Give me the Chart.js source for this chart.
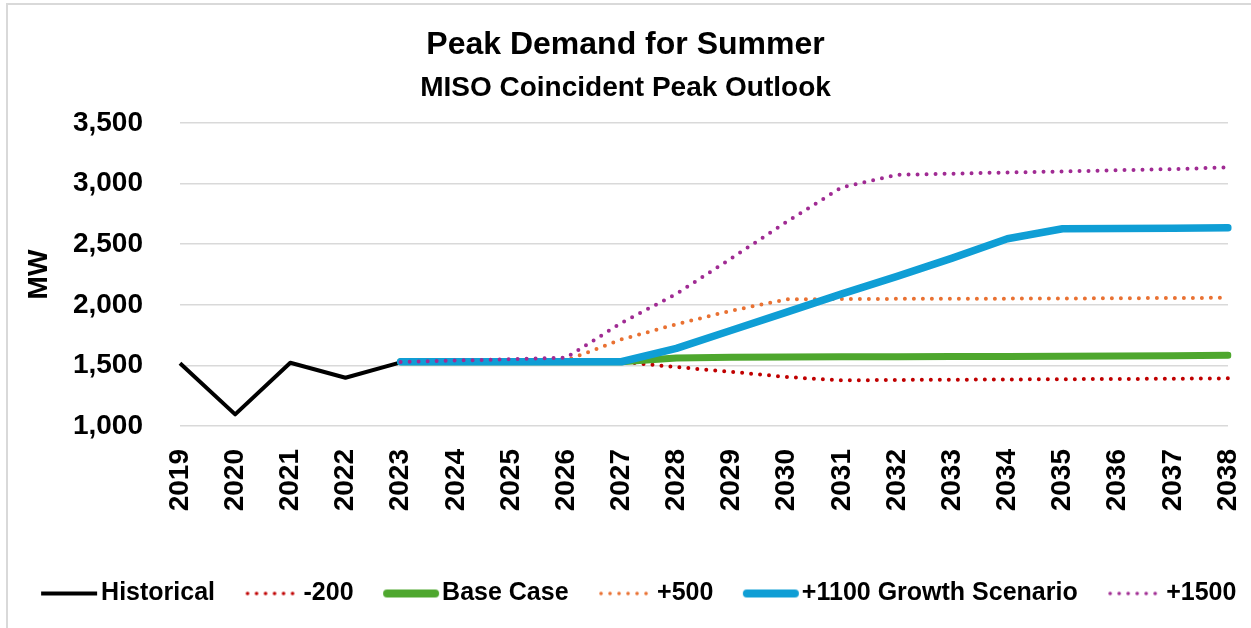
<!DOCTYPE html>
<html>
<head>
<meta charset="utf-8">
<script src="https://cdn.jsdelivr.net/npm/chart.js@4.4.1/dist/chart.umd.min.js"></script>
<style>
  html, body { margin: 0; padding: 0; background: #fff; }
  #wrap { position: relative; width: 1251px; height: 628px; overflow: hidden; }
  #frame { position: absolute; left: 6px; top: 3px; width: 1300px; height: 700px; border: 2px solid #d9d9d9; box-sizing: border-box; }
  #myChart { position: absolute; left: 0; top: 0; }
</style>
</head>
<body>
<div id="wrap">
  <div id="frame"></div>
  <canvas id="myChart" width="1251" height="628"></canvas>
</div>
<script>
const years = ['2019','2020','2021','2022','2023','2024','2025','2026','2027','2028',
               '2029','2030','2031','2032','2033','2034','2035','2036','2037','2038'];

const historical = [1517, 1096, 1522, 1398, 1525, null, null, null, null, null,
                    null, null, null, null, null, null, null, null, null, null];
const minus200   = [null, null, null, null, 1530, 1530, 1530, 1530, 1530, 1486,
                    1447, 1404, 1376, 1380, 1382, 1384, 1386, 1388, 1390, 1393];
const baseCase   = [null, null, null, null, 1530, 1530, 1530, 1530, 1530, 1562,
                    1568, 1570, 1571, 1572, 1573, 1574, 1575, 1577, 1580, 1584];
const plus500    = [null, null, null, null, 1530, 1535, 1538, 1540, 1714, 1840,
                    1952, 2045, 2048, 2049, 2050, 2051, 2052, 2054, 2056, 2058];
const plus1100   = [null, null, null, null, 1530, 1530, 1530, 1530, 1530, 1640,
                    1790, 1940, 2090, 2235, 2385, 2545, 2628, 2630, 2632, 2635];
const plus1500   = [null, null, null, null, 1528, 1540, 1551, 1563, 1850, 2090,
                    2385, 2685, 2970, 3072, 3082, 3092, 3100, 3110, 3120, 3133];

const yTicks = [1000, 1500, 2000, 2500, 3000, 3500];

const FONT = "'Liberation Sans', Arial, sans-serif";
const LEG_BOX = 74;   // legend box width; swatch line sits at its right end

// legend swatch drawn into a small canvas so the line sits right next to the text
function swatch(color, width, kind) {
  const c = document.createElement('canvas');
  c.width = LEG_BOX + 21; c.height = 14;
  const g = c.getContext('2d');
  const end = c.width + 2; // where the label text starts
  g.strokeStyle = color;
  g.fillStyle = color;
  if (kind === 'dots') {
    for (let i = 0; i < 6; i++) {
      g.beginPath();
      g.arc(end - 56 + i * 9, 7, width / 2, 0, Math.PI * 2);
      g.fill();
    }
    return c;
  }
  g.lineWidth = width;
  g.beginPath();
  if (kind === 'round') {
    g.lineCap = 'round';
    g.moveTo(end - 59 + width / 2, 7); g.lineTo(end - 3 - width / 2, 7);
  } else {
    g.moveTo(end - 60, 7); g.lineTo(end - 4, 7);
  }
  g.stroke();
  return c;
}

const dots = [0, 9];

const ctx = document.getElementById('myChart');

new Chart(ctx, {
  type: 'line',
  data: {
    labels: years,
    datasets: [
      { label: 'Historical', data: historical, borderColor: '#000000', borderWidth: 4,
        order: 5, swatch: swatch('#000000', 4, 'flat') },
      { label: '-200', data: minus200, borderColor: '#c00000', borderWidth: 4,
        borderDash: dots, borderCapStyle: 'round', order: 4, swatch: swatch('#c00000', 3.6, 'dots') },
      { label: 'Base Case', data: baseCase, borderColor: '#4ea72e', borderWidth: 7,
        borderCapStyle: 'round', order: 3, swatch: swatch('#4ea72e', 8, 'round') },
      { label: '+500', data: plus500, borderColor: '#e97132', borderWidth: 4,
        borderDash: dots, borderCapStyle: 'round', order: 2, swatch: swatch('#e97132', 3.6, 'dots') },
      { label: '+1100 Growth Scenario', data: plus1100, borderColor: '#0f9ed5', borderWidth: 7.5,
        borderCapStyle: 'round', order: 1, swatch: swatch('#0f9ed5', 8, 'round') },
      { label: '+1500', data: plus1500, borderColor: '#a02b93', borderWidth: 4,
        borderDash: dots, borderCapStyle: 'round', order: 0, swatch: swatch('#a02b93', 3.6, 'dots') }
    ]
  },
  options: {
    responsive: false,
    animation: false,
    elements: {
      point: { radius: 0, hoverRadius: 0 },
      line: { tension: 0, fill: false, borderJoinStyle: 'round' }
    },
    layout: { padding: { left: 0, right: 0, top: 0, bottom: 12 } },
    plugins: {
      title: {
        display: true,
        text: 'Peak Demand for Summer',
        color: '#000',
        font: { family: FONT, size: 32, weight: 'bold' },
        padding: { top: 26, bottom: 4 }
      },
      subtitle: {
        display: true,
        text: 'MISO Coincident Peak Outlook',
        color: '#000',
        font: { family: FONT, size: 28, weight: 'bold' },
        padding: { top: 3, bottom: 18 }
      },
      legend: {
        position: 'bottom',
        labels: {
          color: '#000',
          font: { family: FONT, size: 25, weight: 'bold' },
          usePointStyle: true,
          pointStyleWidth: LEG_BOX,
          boxHeight: 14,
          padding: 2,
          sort: (a, b) => a.datasetIndex - b.datasetIndex,
          generateLabels(chart) {
            const items = Chart.defaults.plugins.legend.labels.generateLabels(chart);
            items.forEach(it => { it.pointStyle = chart.data.datasets[it.datasetIndex].swatch; });
            return items;
          }
        }
      },
      tooltip: { enabled: false }
    },
    scales: {
      x: {
        grid: { display: false },
        border: { display: false },
        ticks: {
          color: '#000',
          font: { family: FONT, size: 28, weight: 'bold' },
          minRotation: 90,
          maxRotation: 90,
          autoSkip: false,
          padding: 15
        },
        afterFit(scale) {
          scale.height = 153;
          scale.paddingLeft = 0;
          scale.paddingRight = 23;
        }
      },
      y: {
        min: 1000,
        max: 3500,
        afterBuildTicks(scale) { scale.ticks = yTicks.map(v => ({ value: v })); },
        grid: { color: '#d9d9d9', lineWidth: 1.5, drawTicks: false },
        border: { display: false },
        ticks: {
          color: '#000',
          font: { family: FONT, size: 28, weight: 'bold' },
          padding: 37,
          callback: v => v.toLocaleString('en-US')
        },
        title: {
          display: true,
          text: 'MW',
          color: '#000',
          font: { family: FONT, size: 28, weight: 'bold' },
          padding: { top: 22, bottom: 0 }
        },
        afterFit(scale) { scale.width = 180; }
      }
    }
  }
});
</script>
</body>
</html>
